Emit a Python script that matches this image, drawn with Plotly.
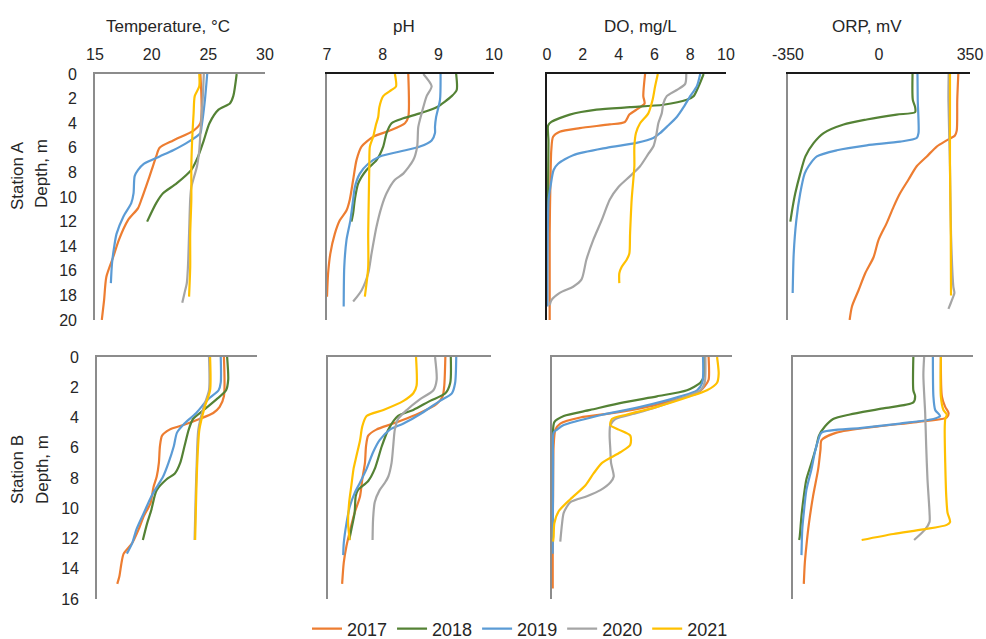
import plotly.graph_objects as go

YEARS = ["2017", "2018", "2019", "2020", "2021"]
COLORS = {"2017": "#ED7D31", "2018": "#548235", "2019": "#5B9BD5", "2020": "#A5A5A5", "2021": "#FFC000"}

TEMP_TICKS = [15, 20, 25, 30]
PH_TICKS = [7, 8, 9, 10]
DO_TICKS = [0, 2, 4, 6, 8, 10]
ORP_TICKS = [-350, 0, 350]
ORP_TICK_TEXT = ["-350", "0", "350"]
DEPTH_TICKS_A = [0, 2, 4, 6, 8, 10, 12, 14, 16, 18, 20]
DEPTH_TICKS_B = [0, 2, 4, 6, 8, 10, 12, 14, 16]

# ---------------- Station A ----------------
A_TEMP_DEPTH = {
    "2017": [0, 4, 4.6, 5.4, 6, 6.7, 7.8, 8.9, 10.2, 10.9, 11.9, 13.5, 14.9, 16.5, 18.4, 20],
    "2018": [0, 1.8, 2.4, 2.9, 4, 5.4, 6.7, 7.8, 8.9, 9.7, 10.5, 12],
    "2019": [0, 2.1, 4.3, 4.8, 5.6, 6.2, 6.7, 7.3, 7.8, 8.3, 9.7, 10.5, 11.6, 13, 14, 15.4, 17],
    "2020": [0, 2.1, 4.8, 6.2, 7.5, 9.2, 10.2, 13, 15.7, 17, 17.8, 18.6],
    "2021": [0, 1, 1.8, 3.2, 4.8, 7.5, 10.2, 13, 15.7, 18.1],
}
A_TEMP_VALUE = {
    "2017": [24.3, 24.3, 23.7, 21.9, 20.7, 20.4, 20.0, 19.6, 19.1, 18.8, 17.9, 17.1, 16.6, 16.0, 15.8, 15.6],
    "2018": [27.5, 27.2, 26.9, 25.9, 25.1, 24.6, 24.1, 23.5, 22.2, 21.0, 20.4, 19.6],
    "2019": [24.9, 24.7, 24.4, 24.3, 23.1, 21.9, 20.7, 19.3, 18.8, 18.5, 18.4, 18.2, 17.5, 16.9, 16.7, 16.5, 16.4],
    "2020": [24.6, 24.5, 24.3, 24.2, 24.0, 23.5, 23.4, 23.3, 23.2, 23.1, 22.9, 22.7],
    "2021": [24.2, 24.2, 23.8, 23.7, 23.6, 23.5, 23.5, 23.4, 23.4, 23.3],
}
A_PH_DEPTH = {
    "2017": [0, 3.5, 4, 4.6, 5.1, 5.9, 7, 8.6, 10.2, 11.1, 11.9, 13, 14.6, 16.2, 18.1],
    "2018": [0, 1.3, 1.8, 2.7, 3.2, 3.6, 4, 4.8, 5.9, 7, 7.8, 8.9, 10.2, 11.3, 12],
    "2019": [0, 2.1, 3.5, 4.3, 4.8, 5.4, 5.9, 6.3, 6.7, 7.3, 8.1, 9.2, 10.2, 11.9, 13.5, 15.7, 18.9],
    "2020": [0, 1, 1.8, 3.2, 4.3, 5.9, 7, 8.1, 8.6, 9.7, 10.8, 12.4, 14.6, 16.2, 17.6, 18.5],
    "2021": [0, 1, 1.3, 1.8, 2.7, 3.5, 4.1, 5.1, 5.9, 7.5, 10.2, 13, 15.7, 18.1],
}
A_PH_VALUE = {
    "2017": [8.46, 8.46, 8.40, 8.13, 7.83, 7.62, 7.53, 7.47, 7.41, 7.35, 7.23, 7.14, 7.06, 7.02, 7.0],
    "2018": [9.32, 9.33, 9.24, 8.97, 8.67, 8.37, 8.16, 8.07, 8.01, 7.89, 7.71, 7.56, 7.50, 7.47, 7.44],
    "2019": [9.04, 9.03, 8.96, 8.94, 8.94, 8.88, 8.67, 8.31, 7.95, 7.74, 7.59, 7.50, 7.47, 7.42, 7.35, 7.31, 7.30],
    "2020": [8.73, 8.88, 8.79, 8.70, 8.64, 8.62, 8.55, 8.37, 8.22, 8.07, 7.98, 7.89, 7.80, 7.74, 7.62, 7.47],
    "2021": [8.22, 8.24, 8.16, 8.01, 7.94, 7.92, 7.88, 7.83, 7.77, 7.76, 7.75, 7.74, 7.74, 7.68],
}
A_DO_DEPTH = {
    "2017": [0, 1.8, 2.4, 2.9, 3.3, 3.9, 4.1, 4.4, 4.7, 5.1, 6.2, 8.9, 13, 20],
    "2018": [0, 1, 1.8, 2.1, 2.5, 2.7, 2.9, 3.3, 3.9, 4.2, 5.4, 7.5, 12],
    "2019": [0, 1, 1.8, 2.7, 3.5, 4.3, 4.8, 5.2, 5.6, 6, 6.6, 7.3, 7.8, 9.2, 10.2, 13, 17, 18.9],
    "2020": [0, 0.8, 1.3, 1.8, 2.4, 3.2, 4, 5.1, 5.9, 6.5, 7.5, 8.3, 9.2, 10.2, 11.9, 13.5, 15.1, 16.7, 17.3, 17.8, 18.4, 18.8],
    "2021": [0, 1, 2.1, 3.2, 4, 4.8, 5.9, 7.5, 10.2, 13, 14.6, 15.1, 15.7, 16.2, 17],
}
A_DO_VALUE = {
    "2017": [5.48, 5.38, 5.45, 5.0, 4.6, 4.35, 3.5, 1.83, 0.71, 0.34, 0.24, 0.19, 0.15, 0.15],
    "2018": [8.75, 8.47, 8.19, 7.81, 6.5, 4.64, 2.77, 1.27, 0.24, 0.06, 0.08, 0.07, 0.04],
    "2019": [8.56, 8.37, 8.0, 7.63, 7.25, 6.69, 6.32, 5.94, 5.0, 3.33, 1.46, 0.62, 0.37, 0.19, 0.09, 0.04, 0.02, 0.02],
    "2020": [7.78, 7.72, 7.25, 6.69, 6.5, 6.41, 6.22, 6.09, 5.94, 5.66, 5.2, 4.64, 3.98, 3.51, 3.05, 2.58, 2.2, 1.93, 1.46, 0.71, 0.24, 0.15],
    "2021": [6.19, 6.04, 5.9, 5.66, 5.2, 4.97, 4.88, 4.88, 4.73, 4.64, 4.6, 4.45, 4.17, 4.04, 4.04],
}
A_ORP_DEPTH = {
    "2017": [0, 2.1, 4.6, 5, 5.4, 5.9, 6.7, 7.5, 8.6, 9.7, 10.8, 12.1, 13.5, 14.9, 16.2, 17.6, 18.9, 20],
    "2018": [0, 2.1, 2.7, 3.1, 3.3, 3.7, 4.1, 4.8, 5.6, 6.7, 8.1, 9.7, 10.8, 12],
    "2019": [0, 2.1, 4.8, 5.2, 5.5, 5.8, 6.2, 6.7, 7.5, 8.1, 9.7, 11.9, 14.6, 17.8],
    "2020": [0, 2.1, 7.5, 13, 17.3, 17.8, 18.4, 19.1],
    "2021": [0, 2.1, 7.5, 13, 18],
}
A_ORP_VALUE = {
    "2017": [305, 301, 299, 292, 260, 222, 184, 145, 113, 81, 56, 30, -2, -21, -53, -79, -104, -113],
    "2018": [129, 130, 139, 139, 68, -47, -136, -213, -251, -283, -303, -322, -332, -341],
    "2019": [148, 149, 152, 145, 81, -47, -162, -239, -271, -286, -303, -318, -328, -332],
    "2020": [268, 267, 273, 277, 286, 290, 280, 267],
    "2021": [273, 273, 273, 276, 277],
}

# ---------------- Station B ----------------
B_TEMP_DEPTH = {
    "2017": [0, 2.6, 3.3, 3.7, 4.1, 4.5, 4.8, 5.2, 5.9, 7, 7.9, 8.6, 9.7, 10.5, 11.4, 12.3, 13, 13.6, 14.5, 15],
    "2018": [0, 1.5, 2.2, 2.8, 3.5, 4.1, 4.8, 5.9, 7, 7.7, 8.1, 8.8, 9.2, 10.1, 11, 12.1],
    "2019": [0, 1.7, 2.2, 2.8, 3.7, 4.4, 5, 5.9, 7, 7.9, 8.6, 9.2, 10.3, 11.4, 12.3, 13],
    "2020": [0, 2.2, 3.3, 4.8, 7, 9.2, 12.1],
    "2021": [0, 2.2, 3.3, 4.8, 7, 9.2, 12.1],
}
B_TEMP_VALUE = {
    "2017": [26.9, 26.9, 26.5, 25.9, 24.6, 23.1, 21.8, 21.1, 20.9, 20.8, 20.6, 20.3, 20.0, 19.4, 18.9, 18.3, 17.5, 17.3, 17.1, 16.9],
    "2018": [27.2, 27.3, 27.1, 26.2, 25.0, 24.0, 23.6, 23.2, 22.8, 22.3, 21.5, 20.6, 20.4, 20.1, 19.7, 19.3],
    "2019": [26.6, 26.6, 26.4, 25.4, 24.3, 23.2, 22.5, 22.2, 21.7, 21.2, 20.6, 20.1, 19.4, 18.7, 18.3, 17.8],
    "2020": [25.5, 25.5, 25.0, 24.5, 24.35, 24.25, 24.15],
    "2021": [25.6, 25.6, 25.1, 24.6, 24.4, 24.3, 24.2],
}
B_PH_DEPTH = {
    "2017": [0, 1.9, 2.6, 3.1, 3.7, 4.4, 4.8, 5.2, 5.9, 7, 8.1, 9.2, 10.3, 11.4, 12.5, 13.6, 15],
    "2018": [0, 1.7, 2.4, 2.9, 3.5, 3.9, 4.8, 5.9, 7.4, 8.2, 8.8, 9.2, 10.3, 11.4, 12.1],
    "2019": [0, 1.7, 2.4, 2.9, 3.7, 4.4, 4.8, 5.5, 6.3, 7.4, 8.3, 9, 9.9, 11, 12.3, 13.1],
    "2020": [0, 1.5, 2.2, 2.8, 3.5, 4.1, 4.8, 5.9, 7, 7.9, 8.3, 8.8, 9.6, 10.7, 12.1],
    "2021": [0, 1.9, 2.4, 2.9, 3.5, 3.9, 4.6, 5.5, 6.6, 7.4, 8.5, 9.6, 11, 12.1],
}
B_PH_VALUE = {
    "2017": [9.16, 9.14, 9.11, 9.0, 8.69, 8.2, 7.89, 7.74, 7.70, 7.68, 7.63, 7.59, 7.49, 7.41, 7.34, 7.29, 7.26],
    "2018": [9.26, 9.25, 9.16, 8.88, 8.57, 8.29, 8.11, 7.99, 7.86, 7.74, 7.55, 7.51, 7.49, 7.43, 7.39],
    "2019": [9.36, 9.34, 9.28, 9.06, 8.73, 8.39, 8.14, 7.95, 7.83, 7.71, 7.59, 7.49, 7.40, 7.34, 7.29, 7.28],
    "2020": [8.97, 9.0, 8.94, 8.69, 8.45, 8.29, 8.23, 8.20, 8.17, 8.11, 8.05, 7.95, 7.86, 7.83, 7.82],
    "2021": [8.62, 8.63, 8.57, 8.39, 8.02, 7.71, 7.63, 7.59, 7.52, 7.47, 7.43, 7.39, 7.37, 7.40],
}
B_DO_DEPTH = {
    "2017": [0, 1.5, 1.9, 2.4, 2.8, 3.3, 3.7, 4, 4.4, 4.8, 5.9, 9.2, 11.4, 15.3],
    "2018": [0, 1.3, 1.7, 2.2, 2.6, 3, 3.5, 3.9, 4.3, 4.8, 7, 12.1],
    "2019": [0, 1.7, 2.2, 2.6, 3.3, 3.9, 4.5, 4.8, 5, 7, 13],
    "2020": [0, 1.7, 2.2, 2.6, 3.3, 3.7, 4.1, 4.5, 5.2, 6.1, 7, 7.9, 8.3, 8.8, 9.2, 9.6, 10.3, 11, 12.2],
    "2021": [0, 1.1, 1.7, 2.2, 2.6, 3.3, 3.8, 4.1, 4.5, 4.8, 5.2, 5.8, 6.3, 7, 7.7, 8.5, 9.4, 10.2, 11, 11.9, 12.2],
}
B_DO_VALUE = {
    "2017": [8.7, 8.7, 8.5, 8.06, 6.94, 5.28, 3.43, 1.57, 0.46, 0.19, 0.09, 0.06, 0.04, 0.04],
    "2018": [8.46, 8.43, 8.24, 7.5, 5.83, 3.98, 2.13, 0.65, 0.13, 0.06, 0.04, 0.04],
    "2019": [8.39, 8.35, 8.06, 7.13, 4.91, 2.5, 0.65, 0.28, 0.09, 0.06, 0.04],
    "2020": [8.52, 8.48, 8.24, 7.5, 5.83, 4.72, 3.52, 3.24, 3.2, 3.24, 3.28, 3.43, 3.24, 2.69, 1.94, 1.02, 0.65, 0.56, 0.46],
    "2021": [9.17, 9.26, 9.17, 8.61, 7.69, 5.83, 4.17, 3.33, 3.24, 3.7, 4.35, 4.35, 3.8, 2.78, 2.31, 1.85, 1.02, 0.37, 0.13, 0.09, 0.06],
}
B_ORP_DEPTH = {
    "2017": [0, 2.6, 3.3, 3.7, 4, 4.3, 4.6, 5, 5.5, 6.1, 7.4, 9.2, 11, 12.5, 13.6, 15],
    "2018": [0, 2.2, 2.6, 3, 3.4, 3.8, 4.1, 4.6, 5.2, 5.9, 7, 8.1, 9.2, 10.5, 11.9, 12.1],
    "2019": [0, 2.6, 3.5, 3.9, 4.1, 4.4, 4.7, 5, 5.5, 6.3, 7.4, 8.8, 10.3, 11.4, 13.1],
    "2020": [0, 1.2, 3.7, 5.9, 8.1, 10.3, 10.9, 11.4, 12.1],
    "2021": [0, 2.6, 3.5, 3.8, 4.1, 4.8, 7, 9.2, 10.3, 10.9, 11.1, 11.4, 11.7, 12.1],
}
B_ORP_VALUE = {
    "2017": [225, 229, 242, 255, 248, 131, -25, -181, -239, -243, -252, -272, -288, -298, -304, -308],
    "2018": [118, 118, 125, 118, 1, -129, -194, -226, -249, -259, -278, -298, -308, -317, -324, -326],
    "2019": [194, 196, 203, 222, 196, 66, -90, -239, -252, -265, -278, -298, -308, -314, -317],
    "2020": [160, 157, 164, 168, 173, 181, 181, 164, 121],
    "2021": [225, 225, 235, 248, 242, 240, 242, 246, 251, 261, 248, 157, 40, -83],
}

PANELS = [
    # (depth dict, value dict, x range, x ticks, x tick text, row)
    (A_TEMP_DEPTH, A_TEMP_VALUE, [15, 30], TEMP_TICKS, None, 1),
    (A_PH_DEPTH, A_PH_VALUE, [7, 10], PH_TICKS, None, 1),
    (A_DO_DEPTH, A_DO_VALUE, [0, 10], DO_TICKS, None, 1),
    (A_ORP_DEPTH, A_ORP_VALUE, [-350, 350], ORP_TICKS, ORP_TICK_TEXT, 1),
    (B_TEMP_DEPTH, B_TEMP_VALUE, [15, 30], TEMP_TICKS, None, 2),
    (B_PH_DEPTH, B_PH_VALUE, [7, 10], PH_TICKS, None, 2),
    (B_DO_DEPTH, B_DO_VALUE, [0, 10], DO_TICKS, None, 2),
    (B_ORP_DEPTH, B_ORP_VALUE, [-350, 350], ORP_TICKS, ORP_TICK_TEXT, 2),
]

W, H = 986, 639
# pixel boxes (left, right, top, bottom)
BOXES = [
    (95, 265, 74, 320), (327, 494, 74, 320), (547, 726, 74, 320), (788, 970, 74, 320),
    (97, 257, 357, 599), (328, 491, 357, 599), (552, 732, 357, 599), (793, 973, 357, 599),
]
GRAY = "#8c8c8c"
BLACK = "#1a1a1a"
TOP_COLORS = [GRAY, BLACK, BLACK, BLACK, GRAY, GRAY, GRAY, GRAY]
LEFT_COLORS = [GRAY, GRAY, BLACK, GRAY, GRAY, GRAY, GRAY, GRAY]
FONT = "Liberation Sans, Arial, sans-serif"
TXT = "#262626"

fig = go.Figure()
layout = {}
for i, (dd, vd, xr, xt, xtt, row) in enumerate(PANELS):
    n = i + 1
    xa = "x" if n == 1 else f"x{n}"
    ya = "y" if n == 1 else f"y{n}"
    for yr in YEARS:
        fig.add_trace(go.Scatter(
            x=vd[yr], y=dd[yr], mode="lines", name=yr,
            line=dict(color=COLORS[yr], width=2.2, shape="spline", smoothing=0.7),
            xaxis=xa, yaxis=ya, showlegend=(n == 1), legendgroup=yr,
            hoverinfo="skip",
        ))
    l, r, t, b = BOXES[i]
    xdict = dict(
        domain=[l / W, r / W], anchor=ya, side="top", range=xr, automargin=False,
        tickvals=xt, showticklabels=(row == 1), ticks="outside" if row == 1 else "",
        ticklen=6, tickcolor="rgba(0,0,0,0)",
        showline=True, linecolor=TOP_COLORS[i], linewidth=1.6,
        showgrid=False, zeroline=False, fixedrange=True,
        tickfont=dict(family=FONT, size=16, color=TXT),
    )
    if xtt is not None:
        xdict["ticktext"] = xtt
    layout["xaxis" if n == 1 else f"xaxis{n}"] = xdict
    dticks = DEPTH_TICKS_A if row == 1 else DEPTH_TICKS_B
    layout["yaxis" if n == 1 else f"yaxis{n}"] = dict(
        domain=[1 - b / H, 1 - t / H], anchor=xa, automargin=False,
        range=[dticks[-1], 0], tickvals=dticks,
        showticklabels=(i in (0, 4)), ticks="outside" if i in (0, 4) else "",
        ticklen=13, tickcolor="rgba(0,0,0,0)",
        showline=True, linecolor=LEFT_COLORS[i], linewidth=1.6,
        showgrid=False, zeroline=False, fixedrange=True,
        tickfont=dict(family=FONT, size=16, color=TXT),
    )

annotations = []
TITLES = [("Temperature, °C", 168), ("pH", 404), ("DO, mg/L", 640), ("ORP, mV", 867)]
for txt, cx in TITLES:
    annotations.append(dict(text=txt, x=cx / W, y=1 - 27 / H, xref="paper", yref="paper",
                            showarrow=False, xanchor="center", yanchor="middle",
                            font=dict(family=FONT, size=17, color=TXT)))
ROWLABELS = [("Station A", 17, 176), ("Depth, m", 42, 174), ("Station B", 17, 470), ("Depth, m", 42, 470)]
for txt, cx, cy in ROWLABELS:
    annotations.append(dict(text=txt, x=cx / W, y=1 - cy / H, xref="paper", yref="paper",
                            showarrow=False, xanchor="center", yanchor="middle", textangle=-90,
                            font=dict(family=FONT, size=17, color=TXT)))

fig.update_layout(
    width=W, height=H, autosize=False,
    margin=dict(l=0, r=0, t=0, b=0, autoexpand=False),
    paper_bgcolor="white", plot_bgcolor="white",
    annotations=annotations,
    legend=dict(orientation="h", x=520 / W, y=1 - 629 / H, xanchor="center", yanchor="middle",
                font=dict(family=FONT, size=18, color=TXT), bgcolor="rgba(0,0,0,0)"),
    showlegend=True,
    **layout,
)

fig.write_html(
    "out.html",
    config={"displayModeBar": False},
    post_script="document.documentElement.style.margin='0';document.body.style.margin='0';"
                "document.body.style.overflow='hidden';",
)
